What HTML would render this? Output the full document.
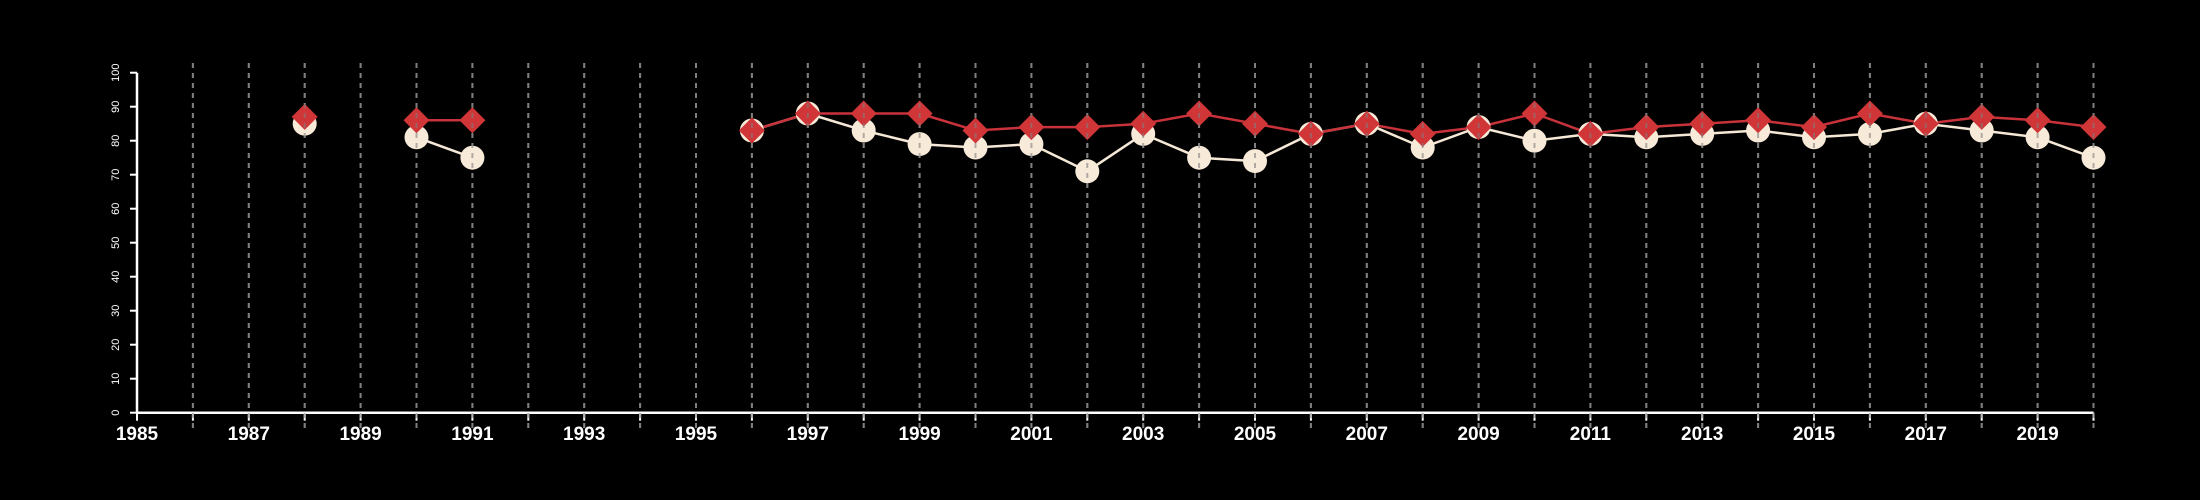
<!DOCTYPE html>
<html><head><meta charset="utf-8"><style>
html,body{margin:0;padding:0;background:#000;}
svg{display:block;font-family:"Liberation Sans",sans-serif;}
</style></head><body>
<svg id="chart" width="2200" height="500" viewBox="0 0 2200 500" xmlns="http://www.w3.org/2000/svg">
<rect width="2200" height="500" fill="#000"/>
<g id="grid"></g>
<g id="axes"></g>
<g id="series"></g>
</svg>
<script>
const years = [1988,1990,1991,1996,1997,1998,1999,2000,2001,2002,2003,2004,2005,2006,2007,2008,2009,2010,2011,2012,2013,2014,2015,2016,2017,2018,2019,2020];
const seriesCream = [85,81,75,83,88,83,79,78,79,71,82,75,74,82,85,78,84,80,82,81,82,83,81,82,85,83,81,75];
const seriesRed = [87,86,86,83,88,88,88,83,84,84,85,88,85,82,85,82,84,88,82,84,85,86,84,88,85,87,86,84];
const yTicks = [0,10,20,30,40,50,60,70,80,90,100];
const xTickLabels = [1985,1987,1989,1991,1993,1995,1997,1999,2001,2003,2005,2007,2009,2011,2013,2015,2017,2019];

const NS = "http://www.w3.org/2000/svg";
const x0 = 137, pxYear = 55.9, y0 = 412.7, pxUnit = 3.4;
const xs = y => x0 + (y - 1985) * pxYear;
const ys = v => y0 - v * pxUnit;
function mk(tag, attrs, parent){const e=document.createElementNS(NS,tag);for(const k in attrs)e.setAttribute(k,attrs[k]);parent.appendChild(e);return e;}
const grid=document.getElementById('grid'), axes=document.getElementById('axes'), ser=document.getElementById('series');

let a=mk('line',{x1:x0,y1:ys(0),x2:xs(2020),y2:ys(0),stroke:'#fff','stroke-width':2.5},axes);


a=mk('line',{x1:x0,y1:ys(0),x2:x0,y2:ys(100),stroke:'#fff','stroke-width':2.5},axes);


yTicks.forEach(v=>{
  const t=mk('line',{x1:x0-7,y1:ys(v),x2:x0,y2:ys(v),stroke:'#fff','stroke-width':2},axes);
  
  
  const l=mk('text',{x:0,y:0,fill:'#fff','font-size':11,'text-anchor':'middle',transform:`translate(119,${ys(v)}) rotate(-90)`},axes);
  l.textContent=v;
  
  
});
for(let y=1985;y<=2020;y++){
  const t=mk('line',{x1:xs(y),y1:ys(0),x2:xs(y),y2:ys(0)+8,stroke:'#fff','stroke-width':2},axes);
  
  
  if(y>1985){
    const g=mk('line',{x1:xs(y),y1:63,x2:xs(y),y2:428,stroke:'#7f7f7f','stroke-width':2,'stroke-dasharray':'5,5'},grid);
    
    
  }
}
xTickLabels.forEach(y=>{
  const l=mk('text',{x:xs(y),y:440,fill:'#fff','font-size':19,'font-weight':'bold','text-anchor':'middle'},axes);
  l.textContent=y;
  
  
});

function lines(vals,color,name){
  for(let i=1;i<years.length;i++){
    if(years[i]-years[i-1]===1){
      const l=mk('line',{x1:xs(years[i-1]),y1:ys(vals[i-1]),x2:xs(years[i]),y2:ys(vals[i]),stroke:color,'stroke-width':2.5},ser);
      
      
    }
  }
}
lines(seriesCream,'#f5e8d6','cream-line-segment');
lines(seriesRed,'#c8323a','red-line-segment');
years.forEach((y,i)=>{
  const c=mk('circle',{cx:xs(y),cy:ys(seriesCream[i]),r:12,fill:'#f8ead8'},ser);
  
  
});
years.forEach((y,i)=>{
  const cx=xs(y),cy=ys(seriesRed[i]),r=13;
  const p=mk('polygon',{points:`${cx},${cy-r} ${cx+r},${cy} ${cx},${cy+r} ${cx-r},${cy}`,fill:'#d03538'},ser);
  
  
});
const svg=document.getElementById('chart');
const overlay=grid.cloneNode(true);
overlay.setAttribute('opacity','0.6');


svg.appendChild(overlay);
</script>
</body></html>
